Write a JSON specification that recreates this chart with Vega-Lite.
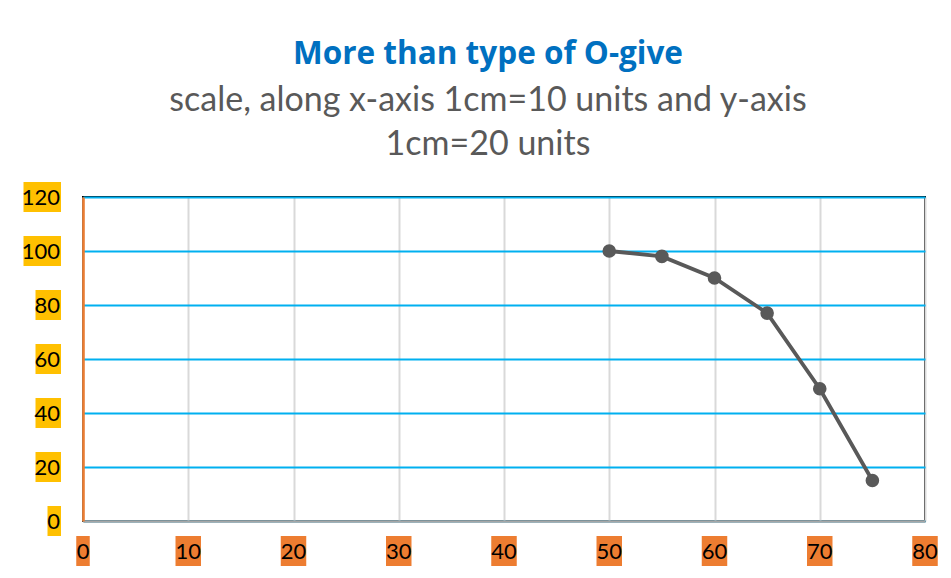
{
  "$schema": "https://vega.github.io/schema/vega-lite/v6.json",
  "width": 842,
  "height": 324,
  "autosize": {"type": "none"},
  "padding": {"left": 83, "top": 197, "right": 26, "bottom": 57},
  "background": "white",
  "config": {
    "view": {"stroke": "#000000", "strokeWidth": 2},
    "font": "Lato"
  },
  "title": {
    "text": "More than type of O-give",
    "subtitle": ["scale, along x-axis 1cm=10 units and y-axis", "1cm=20 units"],
    "color": "#0070C0",
    "font": "Open Sans",
    "fontWeight": "bold",
    "fontSize": 31.5,
    "subtitleColor": "#595959",
    "subtitleFont": "Lato",
    "subtitleFontSize": 34,
    "subtitlePadding": 14,
    "subtitleLineHeight": 44,
    "anchor": "middle",
    "frame": "group",
    "dx": -16,
    "offset": 20
  },
  "datasets": {
    "ogive": [
      {"x": 50, "y": 100},
      {"x": 55, "y": 98},
      {"x": 60, "y": 90},
      {"x": 65, "y": 77},
      {"x": 70, "y": 49},
      {"x": 75, "y": 15}
    ],
    "xticks": [
      {"v": 0}, {"v": 10}, {"v": 20}, {"v": 30}, {"v": 40},
      {"v": 50}, {"v": 60}, {"v": 70}, {"v": 80}
    ],
    "yticks": [
      {"v": 0}, {"v": 20}, {"v": 40}, {"v": 60}, {"v": 80}, {"v": 100}, {"v": 120}
    ]
  },
  "layer": [
    {
      "data": {"name": "ogive"},
      "mark": {"type": "line", "color": "#595959", "strokeWidth": 3.8},
      "encoding": {
        "x": {
          "field": "x", "type": "quantitative",
          "scale": {"domain": [0, 80], "nice": false, "zero": false},
          "axis": {
            "values": [0, 10, 20, 30, 40, 50, 60, 70, 80],
            "labels": false, "ticks": false, "title": null,
            "grid": true, "gridColor": "#D9D9D9", "gridWidth": 2,
            "domainColor": "#A6A6A6", "domainWidth": 2.5
          }
        },
        "y": {
          "field": "y", "type": "quantitative",
          "scale": {"domain": [0, 120], "nice": false},
          "axis": {
            "values": [0, 20, 40, 60, 80, 100, 120],
            "labels": false, "ticks": false, "title": null,
            "grid": true, "gridColor": "#00B0F0", "gridWidth": 2,
            "domainColor": "#ED7D31", "domainWidth": 2.5
          }
        }
      }
    },
    {
      "data": {"name": "ogive"},
      "mark": {"type": "point", "filled": true, "opacity": 1, "color": "#595959", "size": 185},
      "encoding": {
        "x": {"field": "x", "type": "quantitative"},
        "y": {"field": "y", "type": "quantitative"}
      }
    },
    {
      "data": {"name": "xticks"},
      "transform": [{"calculate": "length(toString(datum.v))", "as": "d"}],
      "mark": {"type": "point", "filled": true, "opacity": 1, "color": "#ED7D31", "size": 900, "strokeWidth": 0, "yOffset": 30, "clip": false},
      "encoding": {
        "x": {"field": "v", "type": "quantitative"},
        "y": {"value": "height"},
        "shape": {
          "field": "d", "type": "nominal", "legend": null,
          "scale": {"domain": [1, 2, 3], "range": ["M-0.45,-1H0.45V1H-0.45Z", "M-0.85,-1H0.85V1H-0.85Z", "M-1.25,-1H1.25V1H-1.25Z"]}
        }
      }
    },
    {
      "data": {"name": "xticks"},
      "mark": {"type": "text", "color": "#000000", "fontSize": 22, "font": "Lato", "align": "center", "baseline": "middle", "yOffset": 31},
      "encoding": {
        "x": {"field": "v", "type": "quantitative"},
        "y": {"value": "height"},
        "text": {"field": "v", "type": "nominal"}
      }
    },
    {
      "data": {"name": "yticks"},
      "transform": [{"calculate": "length(toString(datum.v))", "as": "d"}],
      "mark": {"type": "point", "filled": true, "opacity": 1, "color": "#FFC000", "size": 900, "strokeWidth": 0, "xOffset": -22},
      "encoding": {
        "x": {"value": 0},
        "y": {"field": "v", "type": "quantitative"},
        "shape": {
          "field": "d", "type": "nominal", "legend": null,
          "scale": {"domain": [1, 2, 3], "range": ["M-0.9,-1H0V1H-0.9Z", "M-1.7,-1H0V1H-1.7Z", "M-2.5,-1H0V1H-2.5Z"]}
        }
      }
    },
    {
      "data": {"name": "yticks"},
      "mark": {"type": "text", "color": "#000000", "fontSize": 22, "font": "Lato", "align": "right", "baseline": "middle", "xOffset": -23, "yOffset": 1},
      "encoding": {
        "x": {"value": 0},
        "y": {"field": "v", "type": "quantitative"},
        "text": {"field": "v", "type": "nominal"}
      }
    }
  ],
  "resolve": {"scale": {"shape": "independent"}}
}
